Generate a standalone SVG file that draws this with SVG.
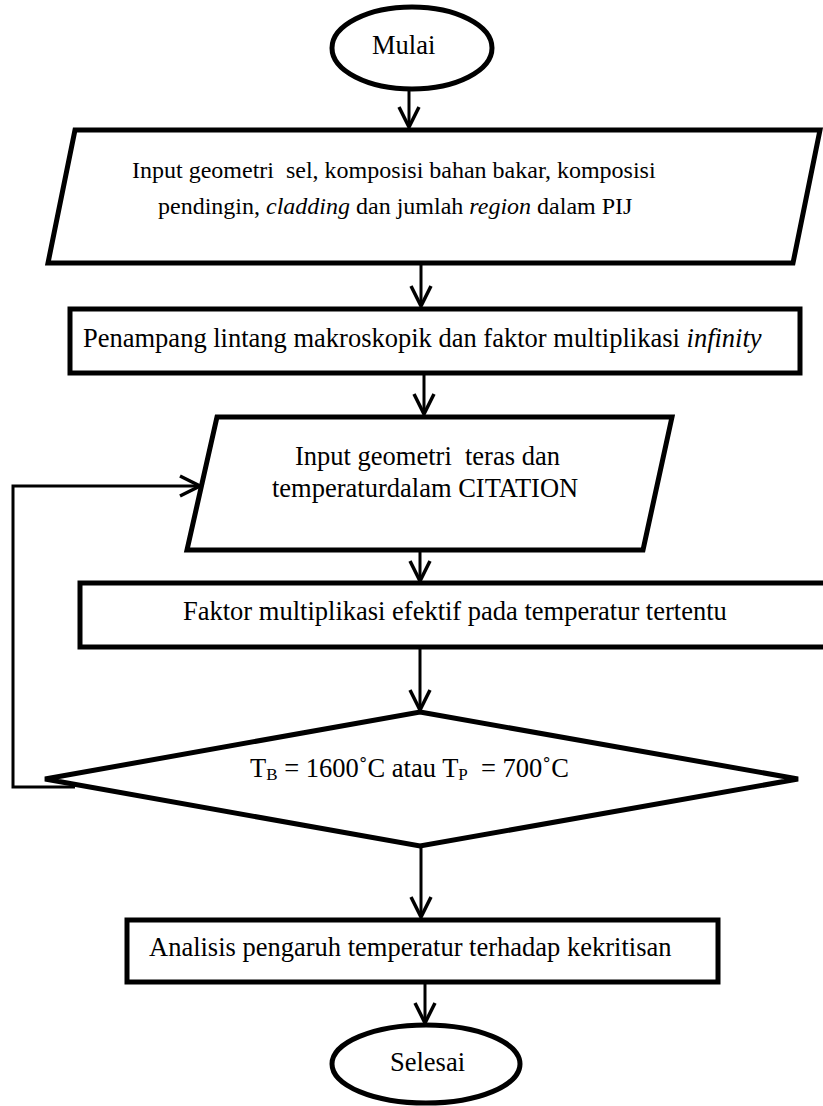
<svg xmlns="http://www.w3.org/2000/svg" width="823" height="1106" viewBox="0 0 823 1106">
<defs>
<style>
.shape{fill:#fff;stroke:#000;stroke-width:5;stroke-linejoin:miter}
.conn{fill:none;stroke:#000;stroke-width:3}
.t{font-family:"Liberation Serif","Times New Roman",serif;font-size:26.5px;fill:#000;white-space:pre}
.s{font-size:24px}
.i{font-style:italic}
</style>
<marker id="arr" markerUnits="userSpaceOnUse" markerWidth="30" markerHeight="30" viewBox="-25 -15 30 30" refX="0" refY="0" orient="auto">
<path d="M-20,-10 L0,0 L-20,10" fill="none" stroke="#000" stroke-width="3.5"/>
</marker>
</defs>
<rect width="823" height="1106" fill="#fff"/>
<g id="connectors">
<line class="conn" x1="409" y1="90" x2="409" y2="127" marker-end="url(#arr)"/>
<line class="conn" x1="421" y1="264" x2="421" y2="306" marker-end="url(#arr)"/>
<line class="conn" x1="424" y1="374" x2="424" y2="414" marker-end="url(#arr)"/>
<line class="conn" x1="420" y1="551" x2="420" y2="581" marker-end="url(#arr)"/>
<line class="conn" x1="420" y1="649" x2="420" y2="710" marker-end="url(#arr)"/>
<line class="conn" x1="421" y1="847" x2="421" y2="917" marker-end="url(#arr)"/>
<line class="conn" x1="425" y1="983" x2="425" y2="1023" marker-end="url(#arr)"/>
<polyline class="conn" points="75,787 13,787 13,486 200,486" marker-end="url(#arr)"/>
</g>
<g id="start">
<ellipse class="shape" cx="412" cy="48" rx="80" ry="41"/>
<text class="t" x="372" y="54">Mulai</text>
</g>
<g id="input1">
<polygon class="shape" points="75,130 820,130 793,263 48,263"/>
<text class="t s" x="132" y="178">Input geometri  sel, komposisi bahan bakar, komposisi</text>
<text class="t s" x="158" y="214">pendingin, <tspan class="i">cladding</tspan> dan jumlah <tspan class="i">region</tspan> dalam PIJ</text>
</g>
<g id="xsec">
<rect class="shape" x="70" y="309" width="730" height="64"/>
<text class="t" x="83" y="347">Penampang lintang makroskopik dan faktor multiplikasi <tspan class="i">infinity</tspan></text>
</g>
<g id="input2">
<polygon class="shape" points="217,417 672,417 643,550 187,550"/>
<text class="t" x="295" y="465">Input geometri  teras dan</text>
<text class="t" x="272" y="497">temperaturdalam CITATION</text>
</g>
<g id="keff">
<rect class="shape" x="80" y="583" width="746" height="64"/>
<text class="t" x="183" y="620">Faktor multiplikasi efektif pada temperatur tertentu</text>
</g>
<g id="decision">
<polygon class="shape" points="420,712 798,779 420,846 45,779"/>
<text class="t" x="250" y="777">T<tspan font-size="17" dy="3">B</tspan><tspan dy="-3"> = 1600˚C atau T</tspan><tspan font-size="17" dy="3">P</tspan><tspan dy="-3">  = 700˚C</tspan></text>
</g>
<g id="analysis">
<rect class="shape" x="127" y="920" width="591" height="62"/>
<text class="t" x="149" y="956">Analisis pengaruh temperatur terhadap kekritisan</text>
</g>
<g id="end">
<ellipse class="shape" cx="426" cy="1064" rx="94" ry="39"/>
<text class="t" x="390" y="1071">Selesai</text>
</g>
</svg>
